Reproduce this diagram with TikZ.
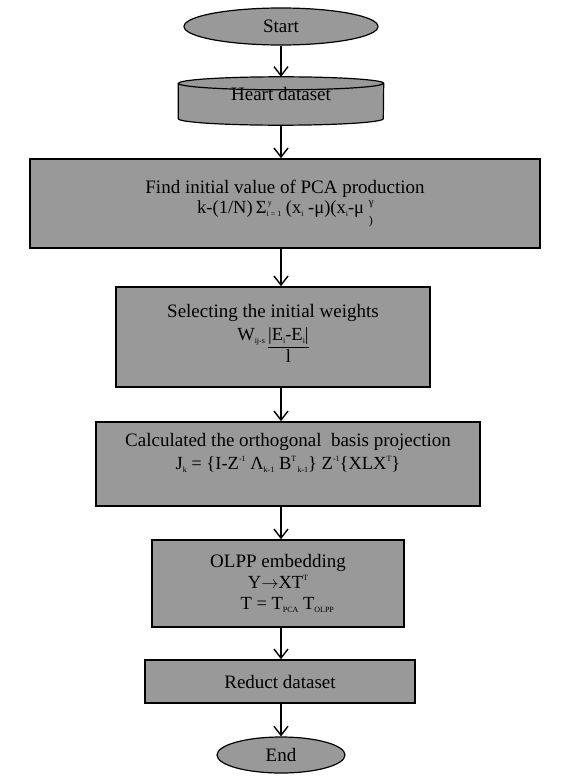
\documentclass[tikz,border=0pt]{standalone}
\usepackage{fontspec}
\setmainfont{Liberation Serif}
\usetikzlibrary{shapes.geometric,arrows.meta}

\definecolor{boxgray}{RGB}{153,153,153}
\newcommand{\subtx}[1]{\raisebox{-.35ex}{\fontsize{8}{8}\selectfont#1}}
\newcommand{\suptx}[1]{\raisebox{.95ex}{\fontsize{8}{8}\selectfont#1}}
\newcommand{\bothtx}[2]{\rlap{\suptx{#1}}\subtx{#2}}
\newcommand{\formula}{\fontsize{18.5}{21}\selectfont}

\begin{document}
\begin{tikzpicture}[x=1pt,y=-1pt,
  every node/.style={font=\fontsize{19}{21}\selectfont,align=center,inner sep=0pt},
  terminal/.style={ellipse,draw,line width=1.2pt,fill=boxgray},
  process/.style={rectangle,draw,line width=1.6pt,fill=boxgray},
  flow/.style={line width=1.4pt,-{Straight Barb[length=9pt,width=14pt,line width=1.4pt]}}]
  \useasboundingbox (0,0) rectangle (562,776);

  \node[terminal,minimum width=194pt,minimum height=37pt] (start) at (281,26.5) {Start};

  % data store drawn as a drum round the node
  \node[minimum width=205pt,minimum height=48pt] (heart) at (281,101) {};
  \filldraw[fill=boxgray,line width=1.2pt]
    ([yshift=-6.5pt]heart.north west) -- ([yshift=6.5pt]heart.south west)
    arc[start angle=180,end angle=360,x radius=102.5pt,y radius=6.5pt]
    -- ([yshift=-6.5pt]heart.north east)
    arc[start angle=0,end angle=180,x radius=102.5pt,y radius=6.5pt] -- cycle;
  \draw[line width=1.2pt] ([yshift=-6.5pt]heart.north west)
    arc[start angle=180,end angle=360,x radius=102.5pt,y radius=6.5pt];
  \node at ([yshift=7pt]heart.center) {Heart dataset};

  \node[process,minimum width=510pt,minimum height=89pt] (pca) at (285,203.5)
    {Find initial value of PCA production\\[-1pt]
     {\formula k-(1/N)\,Σ\bothtx{\,y}{i = 1} (x\subtx{i} -μ)(x\subtx{i}-μ\ \rlap{\suptx{\fontsize{11}{11}\selectfont γ}}\raisebox{-1.2ex}{\fontsize{12}{12}\selectfont )}}};

  \node[process,minimum width=314pt,minimum height=100pt] (weights) at (273,337)
    {Selecting the initial weights\\[2pt]
     {\formula W\subtx{ij-s}\,\setlength{\arrayrulewidth}{1pt}\begin{tabular}[t]{@{}c@{}}|E\subtx{i}-E\subtx{i}|\\\hline l\end{tabular}}};

  \node[process,minimum width=384pt,minimum height=84pt] (calc) at (288,464)
    {Calculated the orthogonal\ \ basis projection\\[2pt]
     {\formula J\subtx{k} = \{I-Z\suptx{-1} Λ\subtx{k-1} B\suptx{T}\subtx{\,k-1}\} Z\suptx{-1}\{XLX\suptx{T}\}}\\[4pt]};

  \node[process,minimum width=252pt,minimum height=87pt] (olpp) at (278,583.5)
    {OLPP embedding\\
     {\formula Y$\rightarrow$XT\suptx{T}}\\
     {\formula\quad T = T\subtx{PCA} T\subtx{OLPP}}};

  \node[process,minimum width=270pt,minimum height=43pt] (reduct) at (280,681.5) {Reduct dataset};

  \node[terminal,minimum width=128pt,minimum height=36pt] (end) at (281,755) {End};

  \draw[flow] (start) -- (heart.north);
  \draw[flow] (heart.south) -- (heart.south |- pca.north);
  \draw[flow] (pca.south -| start.south) -- (start.south |- weights.north);
  \draw[flow] (weights.south -| start.south) -- (start.south |- calc.north);
  \draw[flow] (calc.south -| start.south) -- (start.south |- olpp.north);
  \draw[flow] (olpp.south -| start.south) -- (start.south |- reduct.north);
  \draw[flow] (reduct.south -| start.south) -- (end);
\end{tikzpicture}
\end{document}
